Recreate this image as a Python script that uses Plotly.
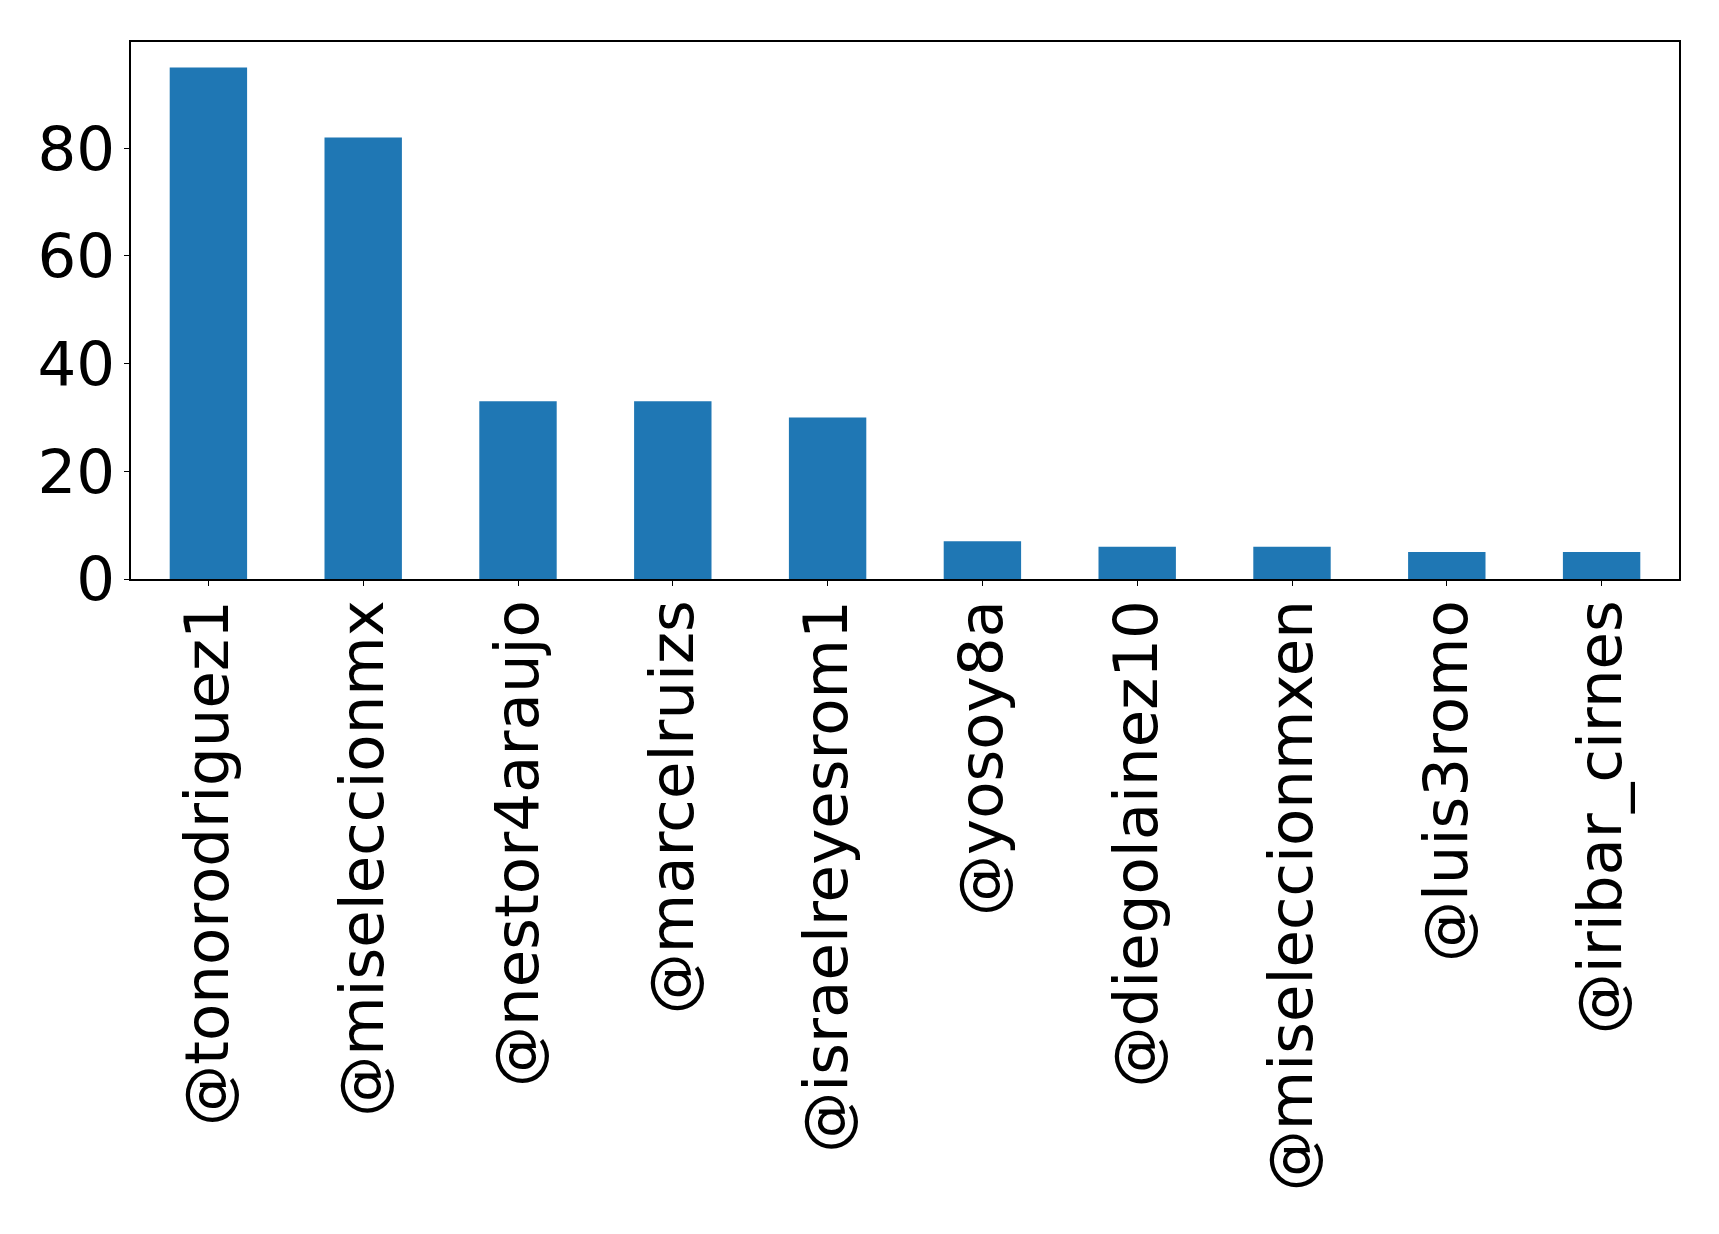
import plotly.graph_objects as go

accounts = ["@tonorodriguez1", "@miseleccionmx", "@nestor4araujo", "@marcelruizs",
            "@israelreyesrom1", "@yosoy8a", "@diegolainez10", "@miseleccionmxen",
            "@luis3romo", "@iribar_cirnes"]
counts = [95, 82, 33, 33, 30, 7, 6, 6, 5, 5]
y_ticks = [0, 20, 40, 60, 80]

fig = go.Figure(go.Bar(x=list(range(len(accounts))), y=counts, width=0.5,
                       marker=dict(color="#1f77b4", line=dict(width=0))))

fig.update_layout(
    width=1719, height=1234,
    margin=dict(l=123, r=48, t=34, b=663, autoexpand=False),
    paper_bgcolor="white", plot_bgcolor="white",
    font=dict(family="DejaVu Sans", size=61, color="black"),
    showlegend=False,
)
fig.update_xaxes(range=[-0.5, 9.5], tickmode="array", tickvals=list(range(len(accounts))),
                 ticktext=accounts, tickangle=-90, showline=True, linecolor="black",
                 linewidth=1.5, mirror=True, ticks="outside", ticklen=5, tickcolor="black",
                 showgrid=False, zeroline=False, tickfont=dict(size=61), automargin=False,
                 ticklabelstandoff=-10)
fig.update_yaxes(range=[0, 99.75], tickvals=y_ticks, showline=True,
                 linecolor="black", linewidth=1.5, mirror=True, ticks="outside", ticklen=5,
                 tickcolor="black", showgrid=False, zeroline=False, tickfont=dict(size=61),
                 automargin=False, ticklabelstandoff=-3)

fig.write_html("out.html")
